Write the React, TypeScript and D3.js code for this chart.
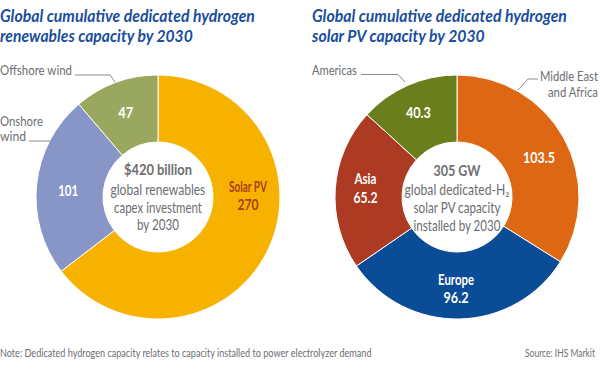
import React, { useLayoutEffect, useRef, useState } from "react";
import * as d3 from "d3";

const leftCategories = ["Solar PV", "Onshore wind", "Offshore wind"];
const leftValues = [270, 101, 47];
const leftColors = ["#F7B200", "#8795C7", "#9AA75E"];

const rightCategories = ["Middle East and Africa", "Europe", "Asia", "Americas"];
const rightValues = [103.5, 96.2, 65.2, 40.3];
const rightColors = ["#DE6714", "#0B4C97", "#AD3A22", "#6B7E1C"];

const W = 600;
const H = 381;
const FONT = "Lato, 'Open Sans', sans-serif";
const GREY = "#6D6E71";
const BLUE = "#1A4E9B";
const CY = 197;
const R_IN = 55;
const R_OUT = 122;

type Line = { t: string; w: number };
type Lbl = { lines: Line[]; angle: number; r: number; color: string };

// Text squeezed horizontally to a given width (condensed look)
function T({ x, y, w, size, weight, italic, fill, anchor, children }: any) {
  const ref = useRef<SVGTextElement>(null);
  const [sx, setSx] = useState(1);
  useLayoutEffect(() => {
    if (ref.current) {
      const n = ref.current.getComputedTextLength();
      if (n > 0) setSx(w / n);
    }
  }, [w, children, size]);
  let x0 = x;
  if (anchor === "middle") x0 = x - w / 2;
  else if (anchor === "end") x0 = x - w;
  return (
    <text
      ref={ref}
      transform={`translate(${x0},${y}) scale(${sx},1)`}
      fontFamily={FONT}
      fontSize={size}
      fontWeight={weight || "normal"}
      fontStyle={italic ? "italic" : "normal"}
      fill={fill}
    >
      {children}
    </text>
  );
}

function Donut({ cx, values, colors, labels, center }: { cx: number; values: number[]; colors: string[]; labels: Lbl[]; center: { t: string; w: number; bold: boolean; dy: number }[] }) {
  const pie = d3.pie<number>().sort(null).value((d) => d);
  const arcs = pie(values);
  const arc = d3.arc<d3.PieArcDatum<number>>().innerRadius(R_IN).outerRadius(R_OUT);
  return (
    <g transform={`translate(${cx},${CY})`}>
      {arcs.map((a, i) => (
        <path key={i} d={arc(a) || ""} fill={colors[i]} stroke="#fff" strokeWidth={1} />
      ))}
      {labels.map((l, i) => {
        const rad = (l.angle * Math.PI) / 180;
        const x = l.r * Math.sin(rad);
        const y = -l.r * Math.cos(rad);
        const n = l.lines.length;
        return (
          <g key={i}>
            {l.lines.map((ln, j) => (
              <T key={j} x={x} y={y + 5.5 + (j - (n - 1) / 2) * 18.5} w={ln.w} size={15.5} weight="bold" fill={l.color} anchor="middle">
                {ln.t}
              </T>
            ))}
          </g>
        );
      })}
      {center.map((c, i) => (
        <T key={i} x={0} y={c.dy} w={c.w} size={c.bold ? 15.5 : 14.5} weight={c.bold ? "bold" : "normal"} fill={GREY} anchor="middle">
          {c.t}
        </T>
      ))}
    </g>
  );
}

export default function App() {
  const leftLabels: Lbl[] = [
    { lines: [{ t: "Solar PV", w: 38 }, { t: String(leftValues[0]), w: 21 }], angle: 89, r: 90, color: "#A8401B" },
    { lines: [{ t: String(leftValues[1]), w: 20 }], angle: 274, r: 90, color: "#fff" },
    { lines: [{ t: String(leftValues[2]), w: 15 }], angle: 339, r: 90, color: "#fff" },
  ];
  const rightLabels: Lbl[] = [
    { lines: [{ t: rightValues[0].toFixed(1), w: 32 }], angle: 64.3, r: 91, color: "#fff" },
    { lines: [{ t: "Europe", w: 36 }, { t: rightValues[1].toFixed(1), w: 25 }], angle: 180.6, r: 91.5, color: "#fff" },
    { lines: [{ t: "Asia", w: 22 }, { t: rightValues[2].toFixed(1), w: 24 }], angle: 275.6, r: 92, color: "#fff" },
    { lines: [{ t: rightValues[3].toFixed(1), w: 25 }], angle: 335.5, r: 93, color: "#fff" },
  ];
  return (
    <svg width={W} height={H} style={{ position: "absolute", left: 0, top: 0, background: "#fff" }}>
      <T x={0} y={22} w={255} size={16.5} weight="bold" italic fill={BLUE}>Global cumulative dedicated hydrogen</T>
      <T x={0} y={41.5} w={193} size={16.5} weight="bold" italic fill={BLUE}>renewables capacity by 2030</T>
      <T x={312} y={22} w={255} size={16.5} weight="bold" italic fill={BLUE}>Global cumulative dedicated hydrogen</T>
      <T x={312} y={41.5} w={173} size={16.5} weight="bold" italic fill={BLUE}>solar PV capacity by 2030</T>

      <Donut
        cx={158}
        values={leftValues}
        colors={leftColors}
        labels={leftLabels}
        center={[
          { t: "$420 billion", w: 68, bold: true, dy: -22 },
          { t: "global renewables", w: 95, bold: false, dy: -2 },
          { t: "capex investment", w: 88, bold: false, dy: 16 },
          { t: "by 2030", w: 42, bold: false, dy: 33 },
        ]}
      />
      <Donut
        cx={457}
        values={rightValues}
        colors={rightColors}
        labels={rightLabels}
        center={[
          { t: "305 GW", w: 47, bold: true, dy: -21 },
          { t: "global dedicated-H₂", w: 105, bold: false, dy: -2 },
          { t: "solar PV capacity", w: 87, bold: false, dy: 16 },
          { t: "installed by 2030", w: 87, bold: false, dy: 34 },
        ]}
      />

      {/* callouts */}
      <T x={0} y={75} w={72} size={14} fill={GREY}>{leftCategories[2]}</T>
      <T x={0} y={126} w={43} size={13} fill={GREY}>Onshore</T>
      <T x={0} y={141} w={26} size={13} fill={GREY}>wind</T>
      <T x={312} y={74.5} w={45} size={14} fill={GREY}>{rightCategories[3]}</T>
      <T x={598} y={81} w={58} size={13} fill={GREY} anchor="end">Middle East</T>
      <T x={598} y={96.5} w={50} size={13} fill={GREY} anchor="end">and Africa</T>
      <g fill="none" stroke="#8A8B8D" strokeWidth={1}>
        <polyline points="75,75 110,75 115,82" />
        <polyline points="29,141 50,141" />
        <polyline points="361,74.5 398,74.5 405,82" />
        <polyline points="538,79 528,79 518,90" />
      </g>

      <T x={0} y={357} w={372} size={10.5} fill={GREY}>
        Note: Dedicated hydrogen capacity relates to capacity installed to power electrolyzer demand
      </T>
      <T x={595} y={357} w={70} size={10.5} fill={GREY} anchor="end">
        Source: IHS Markit
      </T>
    </svg>
  );
}
